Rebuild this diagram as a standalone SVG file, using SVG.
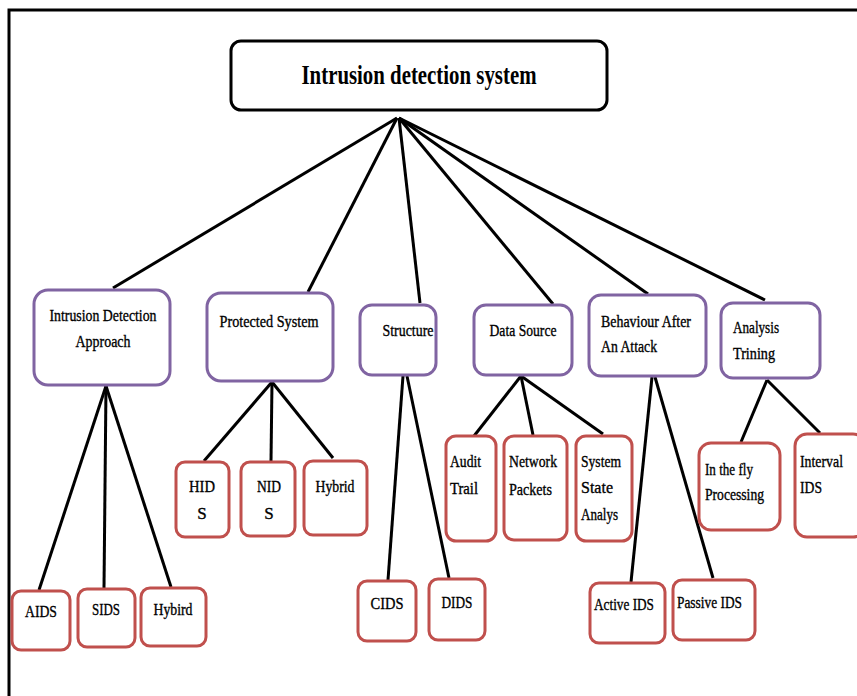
<svg xmlns="http://www.w3.org/2000/svg" width="857" height="696" viewBox="0 0 857 696" font-family="'Liberation Serif', 'Times New Roman', serif">
<style>
.frame{stroke:#000;stroke-width:3;fill:none}
.root{fill:#fff;stroke:#000;stroke-width:3}
.l1{fill:#fff;stroke:#8064a2;stroke-width:3}
.l2{fill:#fff;stroke:#c0504d;stroke-width:3}
.edge{stroke:#000;stroke-width:3;fill:none}
text{font-family:'Liberation Serif','Times New Roman',serif;fill:#000}
.t{font-size:17px;stroke:#000;stroke-width:0.35}
.m{text-anchor:middle}
.big{font-size:27px;text-anchor:middle;font-weight:bold}
</style>
<rect width="857" height="696" fill="#fff"/>
<path class="frame" d="M9 696 V10 H857"/>
<g id="connectors">
<line class="edge" x1="397" y1="118" x2="113" y2="288"/>
<line class="edge" x1="397" y1="118" x2="308" y2="292"/>
<line class="edge" x1="399" y1="118" x2="420" y2="303"/>
<line class="edge" x1="399" y1="118" x2="553" y2="304"/>
<line class="edge" x1="399" y1="118" x2="648" y2="294"/>
<line class="edge" x1="399" y1="118" x2="765" y2="300"/>
<line class="edge" x1="106" y1="386" x2="39" y2="590"/>
<line class="edge" x1="106" y1="386" x2="104" y2="588"/>
<line class="edge" x1="106" y1="386" x2="171" y2="587"/>
<line class="edge" x1="272" y1="382" x2="204" y2="461"/>
<line class="edge" x1="272" y1="382" x2="271" y2="461"/>
<line class="edge" x1="272" y1="382" x2="333" y2="458"/>
<line class="edge" x1="403" y1="376" x2="388" y2="580"/>
<line class="edge" x1="407" y1="376" x2="449" y2="578"/>
<line class="edge" x1="521" y1="376" x2="474" y2="436"/>
<line class="edge" x1="521" y1="376" x2="533" y2="435"/>
<line class="edge" x1="521" y1="376" x2="603" y2="434"/>
<line class="edge" x1="652" y1="377" x2="631" y2="582"/>
<line class="edge" x1="655" y1="377" x2="713" y2="578"/>
<line class="edge" x1="767" y1="380" x2="741" y2="442"/>
<line class="edge" x1="767" y1="380" x2="820" y2="433"/>
</g>
<g id="root">
<rect class="root" x="231" y="41" width="376" height="69" rx="10"/>
<text class="big" x="419" y="84" textLength="235" lengthAdjust="spacingAndGlyphs">Intrusion detection system</text>
</g>
<g id="n-approach">
<rect class="l1" x="34" y="290" width="136" height="95" rx="14"/>
<text class="t m" x="103" y="321" textLength="107" lengthAdjust="spacingAndGlyphs">Intrusion Detection</text>
<text class="t m" x="103" y="347" textLength="55" lengthAdjust="spacingAndGlyphs">Approach</text>
</g>
<g id="n-protected">
<rect class="l1" x="207" y="293" width="126" height="88" rx="14"/>
<text class="t m" x="269" y="327" textLength="99" lengthAdjust="spacingAndGlyphs">Protected  System</text>
</g>
<g id="n-structure">
<rect class="l1" x="360" y="305" width="76" height="70" rx="12"/>
<text class="t m" x="408" y="336" textLength="51" lengthAdjust="spacingAndGlyphs">Structure</text>
</g>
<g id="n-datasource">
<rect class="l1" x="474" y="305" width="98" height="70" rx="12"/>
<text class="t m" x="523" y="336" textLength="67" lengthAdjust="spacingAndGlyphs">Data Source</text>
</g>
<g id="n-behaviour">
<rect class="l1" x="589" y="295" width="117" height="81" rx="12"/>
<text class="t" x="601" y="327" textLength="90" lengthAdjust="spacingAndGlyphs">Behaviour After</text>
<text class="t" x="601" y="352" textLength="56" lengthAdjust="spacingAndGlyphs">An Attack</text>
</g>
<g id="n-analysis">
<rect class="l1" x="721" y="303" width="99" height="75" rx="12"/>
<text class="t" x="733" y="333" textLength="46" lengthAdjust="spacingAndGlyphs">Analysis</text>
<text class="t" x="733" y="359" textLength="42" lengthAdjust="spacingAndGlyphs">Trining</text>
</g>
<g id="n-aids">
<rect class="l2" x="12" y="591" width="58" height="59" rx="9"/>
<text class="t m" x="41" y="617" textLength="32" lengthAdjust="spacingAndGlyphs">AIDS</text>
</g>
<g id="n-sids">
<rect class="l2" x="78" y="589" width="57" height="58" rx="9"/>
<text class="t m" x="106" y="615" textLength="28" lengthAdjust="spacingAndGlyphs">SIDS</text>
</g>
<g id="n-hybird">
<rect class="l2" x="141" y="588" width="65" height="58" rx="9"/>
<text class="t m" x="173" y="615" textLength="39" lengthAdjust="spacingAndGlyphs">Hybird</text>
</g>
<g id="n-hids">
<rect class="l2" x="176" y="462" width="53" height="75" rx="9"/>
<text class="t m" x="202" y="492" textLength="26" lengthAdjust="spacingAndGlyphs">HID</text>
<text class="t m" x="202" y="519">S</text>
</g>
<g id="n-nids">
<rect class="l2" x="241" y="462" width="54" height="74" rx="9"/>
<text class="t m" x="269" y="492" textLength="24" lengthAdjust="spacingAndGlyphs">NID</text>
<text class="t m" x="269" y="519">S</text>
</g>
<g id="n-hybrid">
<rect class="l2" x="304" y="461" width="63" height="74" rx="9"/>
<text class="t m" x="335" y="492" textLength="39" lengthAdjust="spacingAndGlyphs">Hybrid</text>
</g>
<g id="n-cids">
<rect class="l2" x="358" y="581" width="58" height="60" rx="9"/>
<text class="t m" x="387" y="609" textLength="33" lengthAdjust="spacingAndGlyphs">CIDS</text>
</g>
<g id="n-dids">
<rect class="l2" x="429" y="579" width="56" height="61" rx="9"/>
<text class="t m" x="457" y="608" textLength="31" lengthAdjust="spacingAndGlyphs">DIDS</text>
</g>
<g id="n-audit">
<rect class="l2" x="446" y="436" width="50" height="105" rx="10"/>
<text class="t" x="450" y="467" textLength="31" lengthAdjust="spacingAndGlyphs">Audit</text>
<text class="t" x="450" y="494" textLength="28" lengthAdjust="spacingAndGlyphs">Trail</text>
</g>
<g id="n-network">
<rect class="l2" x="504" y="436" width="63" height="104" rx="10"/>
<text class="t" x="509" y="467" textLength="48" lengthAdjust="spacingAndGlyphs">Network</text>
<text class="t" x="509" y="495" textLength="43" lengthAdjust="spacingAndGlyphs">Packets</text>
</g>
<g id="n-system">
<rect class="l2" x="576" y="436" width="56" height="105" rx="10"/>
<text class="t" x="581" y="467" textLength="40" lengthAdjust="spacingAndGlyphs">System</text>
<text class="t" x="581" y="493" textLength="32" lengthAdjust="spacingAndGlyphs">State</text>
<text class="t" x="581" y="520" textLength="37" lengthAdjust="spacingAndGlyphs">Analys</text>
</g>
<g id="n-active">
<rect class="l2" x="590" y="583" width="75" height="60" rx="9"/>
<text class="t" x="594" y="610" textLength="60" lengthAdjust="spacingAndGlyphs">Active IDS</text>
</g>
<g id="n-passive">
<rect class="l2" x="673" y="580" width="82" height="60" rx="9"/>
<text class="t" x="677" y="608" textLength="65" lengthAdjust="spacingAndGlyphs">Passive IDS</text>
</g>
<g id="n-inthefly">
<rect class="l2" x="699" y="443" width="81" height="87" rx="12"/>
<text class="t" x="705" y="475" textLength="48" lengthAdjust="spacingAndGlyphs">In the fly</text>
<text class="t" x="705" y="500" textLength="59" lengthAdjust="spacingAndGlyphs">Processing</text>
</g>
<g id="n-interval">
<rect class="l2" x="795" y="434" width="70" height="103" rx="12"/>
<text class="t" x="800" y="467" textLength="43" lengthAdjust="spacingAndGlyphs">Interval</text>
<text class="t" x="800" y="493" textLength="22" lengthAdjust="spacingAndGlyphs">IDS</text>
</g>
</svg>
